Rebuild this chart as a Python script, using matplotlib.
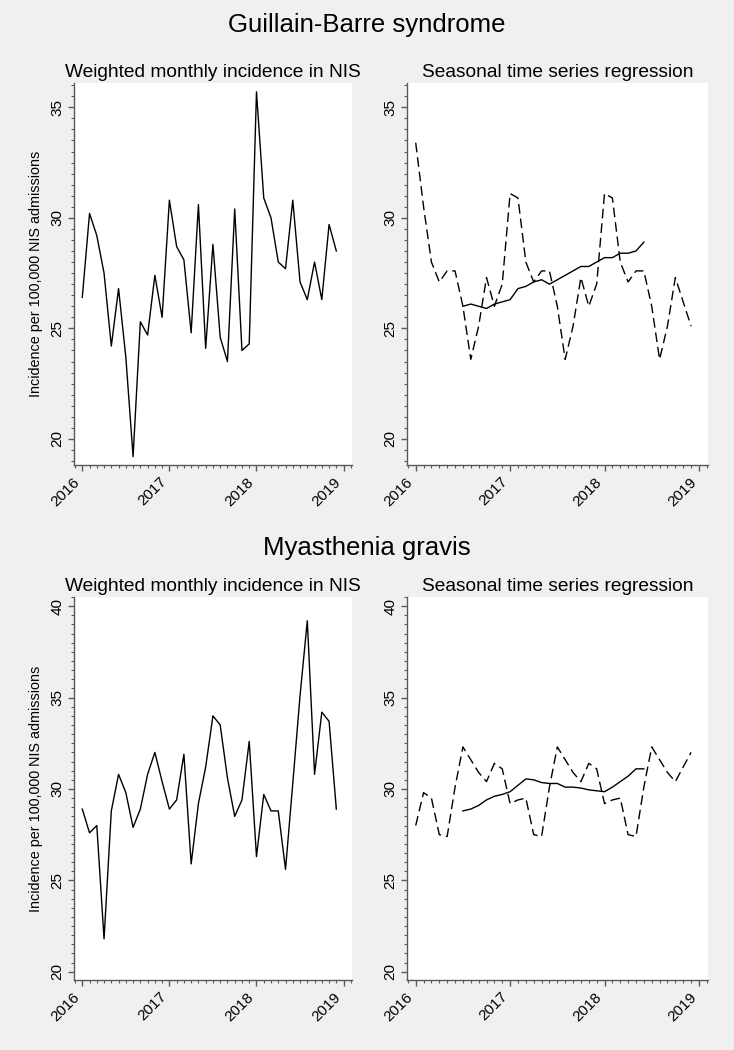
import numpy as np
import matplotlib
matplotlib.use("Agg")
import matplotlib.pyplot as plt
from matplotlib.ticker import MultipleLocator

plt.rcParams["font.family"] = ["Liberation Sans", "DejaVu Sans"]

# -----------------------------
# Data (monthly, Jan 2016 - Dec 2018)
# -----------------------------
months = 2016 + np.arange(36) / 12.0

gbs_obs = [26.4, 30.2, 29.2, 27.5, 24.2, 26.8, 23.7, 19.2, 25.3, 24.7, 27.4, 25.5,
           30.8, 28.7, 28.1, 24.8, 30.6, 24.1, 28.8, 24.6, 23.5, 30.4, 24.0, 24.3,
           35.7, 30.9, 30.0, 28.0, 27.7, 30.8, 27.1, 26.3, 28.0, 26.3, 29.7, 28.5]

gbs_seasonal = [33.4, 30.5, 28.0, 27.1, 27.6, 27.6, 26.0, 23.6, 25.1, 27.3, 26.0, 27.0,
                31.1, 30.9, 28.0, 27.1, 27.6, 27.6, 26.0, 23.6, 25.1, 27.3, 26.0, 27.0,
                31.1, 30.9, 28.0, 27.1, 27.6, 27.6, 26.0, 23.6, 25.1, 27.3, 26.2, 25.1]

# centred moving average, Jul 2016 - Jun 2018
gbs_trend = [26.0, 26.1, 26.0, 25.9, 26.1, 26.2, 26.3, 26.8, 26.9, 27.1, 27.2, 27.0,
             27.2, 27.4, 27.6, 27.8, 27.8, 28.0, 28.2, 28.2, 28.4, 28.4, 28.5, 28.9]

mg_obs = [28.9, 27.6, 28.0, 21.8, 28.8, 30.8, 29.8, 27.9, 28.9, 30.8, 32.0, 30.4,
          28.9, 29.4, 31.9, 25.9, 29.2, 31.2, 34.0, 33.5, 30.6, 28.5, 29.4, 32.6,
          26.3, 29.7, 28.8, 28.8, 25.6, 30.3, 35.1, 39.2, 30.8, 34.2, 33.7, 28.9]

mg_seasonal = [28.0, 29.8, 29.5, 27.5, 27.4, 30.1, 32.3, 31.6, 30.9, 30.4, 31.4, 31.1,
               29.2, 29.4, 29.5, 27.5, 27.4, 30.1, 32.3, 31.6, 30.9, 30.4, 31.4, 31.1,
               29.2, 29.4, 29.5, 27.5, 27.4, 30.1, 32.3, 31.6, 30.9, 30.4, 31.2, 32.0]

mg_trend = [28.8, 28.9, 29.1, 29.4, 29.6, 29.7, 29.85, 30.2, 30.55, 30.5, 30.35, 30.3,
            30.3, 30.1, 30.1, 30.05, 29.95, 29.9, 29.85, 30.1, 30.4, 30.7, 31.1, 31.1]
trend_start = 6

year_ticks = [2016, 2017, 2018, 2019]
year_labels = ["2016", "2017", "2018", "2019"]

BG = "#f0f0f0"
AXC = "#5a5a5a"
W, H = 734, 1050

fig = plt.figure(figsize=(W / 100, H / 100), dpi=100, facecolor=BG)


def px_axes(x0, y0, x1, y1):
    return fig.add_axes([x0 / W, 1 - y1 / H, (x1 - x0) / W, (y1 - y0) / H])


def style(ax, ylim, yticks, xlim):
    ax.set_facecolor("white")
    for s in ["top", "right"]:
        ax.spines[s].set_visible(False)
    for s in ["left", "bottom"]:
        ax.spines[s].set_color(AXC)
        ax.spines[s].set_linewidth(1.0)
    ax.set_ylim(*ylim)
    ax.set_xlim(*xlim)
    ax.set_yticks(yticks)
    ax.set_yticklabels([str(t) for t in yticks], rotation=90, va="center")
    ax.yaxis.set_minor_locator(MultipleLocator(0.5))
    ax.set_xticks(year_ticks)
    ax.set_xticklabels(year_labels, rotation=45, ha="right", va="top")
    ax.xaxis.set_minor_locator(MultipleLocator(1 / 12))
    ax.tick_params(which="major", length=4, width=1.0, color=AXC, labelsize=11, pad=3)
    ax.tick_params(which="minor", length=2.2, width=0.8, color=AXC)


ylab = "Incidence per 100,000 NIS admissions"
panels = [
    (83, 465, gbs_obs, gbs_seasonal, gbs_trend, (18.82, 36.1), [20, 25, 30, 35]),
    (597, 980, mg_obs, mg_seasonal, mg_trend, (19.55, 40.5), [20, 25, 30, 35, 40]),
]

for top, bot, obs, seas, trend, ylim, yticks in panels:
    # left: observed monthly incidence
    ax = px_axes(74, top, 352.3, bot)
    ax.plot(months, obs, color="black", lw=1.0)
    style(ax, ylim, yticks, (2016 - 0.095, 2019.1))
    ax.set_title("Weighted monthly incidence in NIS", fontsize=13.8, pad=4)
    ax.set_ylabel(ylab, fontsize=10.4, labelpad=5)

    # right: seasonal regression + trend
    ax2 = px_axes(407.3, top, 707.7, bot)
    ax2.plot(months, seas, color="black", lw=1.0, linestyle=(0, (7, 3.5)))
    ax2.plot(months[trend_start:trend_start + len(trend)], trend, color="black", lw=1.0)
    style(ax2, ylim, yticks, (2016 - 0.089, 2019.093))
    ax2.set_title("Seasonal time series regression", fontsize=13.8, pad=4)

fig.text(0.5, 1 - 25 / H, "Guillain-Barre syndrome", ha="center", va="center", fontsize=18.5)
fig.text(0.5, 1 - 548 / H, "Myasthenia gravis", ha="center", va="center", fontsize=18.5)

fig.savefig("out.png", dpi=100, facecolor=BG)
